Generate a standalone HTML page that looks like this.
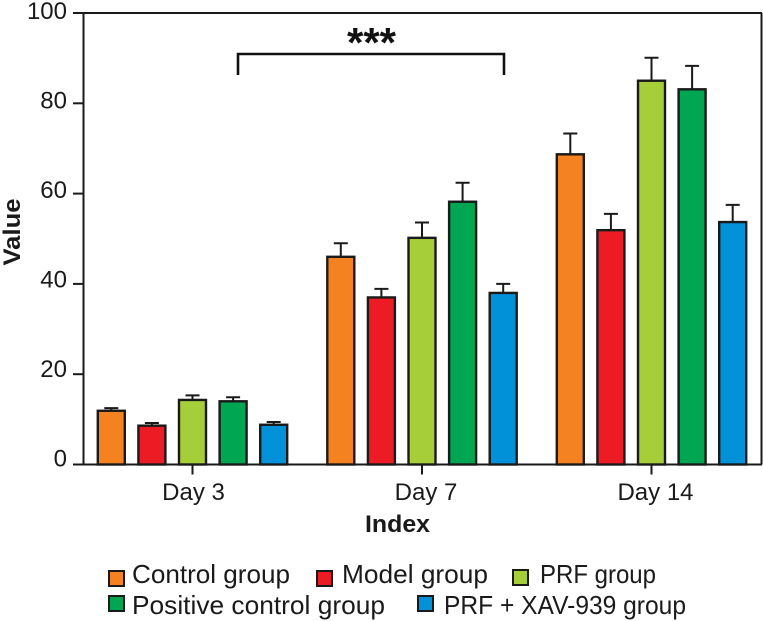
<!DOCTYPE html>
<html>
<head>
<meta charset="utf-8">
<style>
html,body{margin:0;padding:0;background:#fff;}
svg{display:block;font-family:"Liberation Sans",sans-serif;fill:#1a1a1a;}
</style>
</head>
<body>
<svg id="chart" width="763" height="621" viewBox="0 0 763 621" xmlns="http://www.w3.org/2000/svg">
<g id="axes"></g>
<g id="bars"></g>
<g>
<path d="M238 75V54H504V75" fill="none" stroke="#111" stroke-width="2.6"/>
<text x="371.5" y="57" text-anchor="middle" font-size="42" font-weight="bold" fill="#111">***</text>
</g>
<text transform="translate(20,232) rotate(-90)" text-anchor="middle" font-size="24" font-weight="bold" textLength="67" lengthAdjust="spacingAndGlyphs">Value</text>
<text x="397.5" y="532" text-anchor="middle" font-size="24" font-weight="bold" textLength="65" lengthAdjust="spacingAndGlyphs">Index</text>
<g>
<g><rect x="109" y="571" width="15" height="15" fill="#F58220" stroke="#1a1a1a" stroke-width="2"/><text x="132" y="583" font-size="26" textLength="158" lengthAdjust="spacingAndGlyphs">Control group</text></g>
<g><rect x="317" y="571" width="15" height="15" fill="#ED1C24" stroke="#1a1a1a" stroke-width="2"/><text x="342" y="583" font-size="26" textLength="146" lengthAdjust="spacingAndGlyphs">Model group</text></g>
<g><rect x="513" y="570" width="15" height="15" fill="#A6CE39" stroke="#1a1a1a" stroke-width="2"/><text x="540" y="583" font-size="26" textLength="116" lengthAdjust="spacingAndGlyphs">PRF group</text></g>
<g><rect x="109" y="596" width="15" height="15" fill="#00A651" stroke="#1a1a1a" stroke-width="2"/><text x="132" y="614" font-size="26" textLength="253" lengthAdjust="spacingAndGlyphs">Positive control group</text></g>
<g><rect x="418" y="596" width="15" height="15" fill="#0091D9" stroke="#1a1a1a" stroke-width="2"/><text x="444" y="614" font-size="26" textLength="242" lengthAdjust="spacingAndGlyphs">PRF + XAV-939 group</text></g>
</g>
</svg>
<script>
const categories = ['Day 3', 'Day 7', 'Day 14'];
const seriesNames = ['control', 'model', 'prf', 'positive-control', 'prf-xav-939'];
const controlValues = [11.9, 46, 68.7];
const modelValues = [8.6, 37, 51.9];
const prfValues = [14.3, 50.2, 85];
const positiveValues = [14, 58.2, 83.1];
const xavValues = [8.8, 38, 53.7];
const controlErrors = [0.6, 3, 4.6];
const modelErrors = [0.6, 1.9, 3.6];
const prfErrors = [1, 3.4, 5.1];
const positiveErrors = [0.9, 4.2, 5.2];
const xavErrors = [0.6, 2, 3.8];
const yTicks = [0, 20, 40, 60, 80, 100];

const seriesValues = [controlValues, modelValues, prfValues, positiveValues, xavValues];
const seriesErrors = [controlErrors, modelErrors, prfErrors, positiveErrors, xavErrors];
const colors = ['#F58220', '#ED1C24', '#A6CE39', '#00A651', '#0091D9'];
const NS = 'http://www.w3.org/2000/svg';
const y = v => 464.5 - v * 4.515;
const groupX = i => 192.5 + i * 229.5;
const barX = s => (s - 2) * 40.6;

function make(tag, attrs, parent) {
  const el = document.createElementNS(NS, tag);
  for (const k in attrs) el.setAttribute(k, attrs[k]);
  parent.appendChild(el);
  return el;
}

const axes = document.getElementById('axes');
const bars = document.getElementById('bars');
const line = {stroke: '#1a1a1a', 'stroke-width': 2, fill: 'none'};

const yAxis = make('line', {x1: 83.5, x2: 83.5, y1: y(100), y2: y(0), ...line}, axes);


const xAxis = make('line', {x1: 73, x2: 762, y1: y(0), y2: y(0), ...line}, axes);


const topLine = make('line', {x1: 73, x2: 762, y1: y(100), y2: y(100), ...line}, axes);


const rightLine = make('line', {x1: 761.5, x2: 761.5, y1: y(100), y2: y(0), ...line}, axes);



yTicks.forEach(t => {
  const tick = make('line', {x1: 73, x2: 83.5, y1: y(t), y2: y(t), ...line}, axes);
  
  
  const label = make('text', {x: 67, y: y(t) + 2 + t * 0.04, 'text-anchor': 'end', 'font-size': 24}, axes);
  
  
  label.textContent = t;
});

categories.forEach((c, i) => {
  const tick = make('line', {x1: groupX(i), x2: groupX(i), y1: y(0), y2: y(0) + 10, ...line}, axes);
  
  
  const label = make('text', {x: groupX(i) + 1 + (i ? 3 : 0), y: 500, 'text-anchor': 'middle', 'font-size': 24}, axes);
  
  
  label.textContent = c;

  seriesValues.forEach((vals, s) => {
    const cx = groupX(i) + barX(s);
    const top = y(vals[i]);
    const errTop = y(vals[i] + seriesErrors[s][i]);
    const err = make('path', {d: `M${cx} ${top}V${errTop}M${cx - 7} ${errTop}H${cx + 7}`, ...line}, bars);
    
    
    const bar = make('rect', {x: cx - 13.5, y: top, width: 27, height: y(0) - top, fill: colors[s], stroke: '#1a1a1a', 'stroke-width': 2.4}, bars);
    
    
  });
});
</script>
</body>
</html>
